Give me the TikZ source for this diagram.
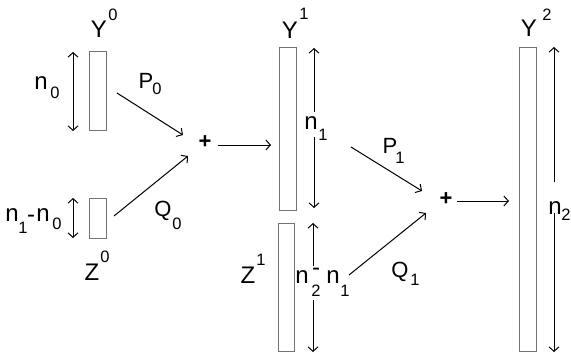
\documentclass[tikz,border=0pt]{standalone}
\usepackage{fontspec}
\setmainfont{Liberation Sans}
\usetikzlibrary{arrows.meta}
\begin{document}
\begin{tikzpicture}[x=1pt,y=-1pt,
  box/.style={draw=black!55, line width=1pt, inner sep=0pt, minimum width=17pt},
  tip/.tip={Straight Barb[length=4.5pt,width=10pt]},
  arr/.style={-tip, line width=1pt},
  big/.style={inner sep=0pt, font=\fontsize{24}{24}\selectfont},
  mid/.style={inner sep=0pt, font=\fontsize{22}{22}\selectfont},
  enn/.style={inner sep=0pt, font=\fontsize{24}{24}\selectfont},
  dig/.style={inner sep=0pt, font=\fontsize{16.5}{16.5}\selectfont}]
\useasboundingbox (0,0) rectangle (571,353);

% boxes
\node[box, minimum height=79pt]  (Y0) at (97.5,91.5) {};
\node[box, minimum height=40pt]  (Z0) at (97.5,218) {};
\node[box, minimum height=162pt] (Y1) at (287.5,129) {};
\node[box, minimum height=128pt, minimum width=16pt] (Z1) at (286,287.5) {};
\node[box, minimum height=304pt] (Y2) at (527.5,199.5) {};

% plus signs
\node[inner sep=0pt, font=\fontsize{22}{22}\selectfont\bfseries] (s0) at (205,142) {+};
\node[inner sep=0pt, font=\fontsize{22}{22}\selectfont\bfseries] (s1) at (446,199) {+};

% coordinates for connector ends
\coordinate (p0a) at (117,93);  \coordinate (p0b) at (183,135);
\coordinate (q0a) at (114,216); \coordinate (q0b) at (188,156);
\coordinate (s0a) at (218,145); \coordinate (s0b) at (271,145);
\coordinate (p1a) at (351,147); \coordinate (p1b) at (422,191);
\coordinate (q1a) at (349,275); \coordinate (q1b) at (426,213);
\coordinate (s1a) at (457,201); \coordinate (s1b) at (509,201);

\draw[arr] (p0a) -- (p0b);
\draw[arr] (q0a) -- (q0b);
\draw[arr] (s0a) -- (s0b);
\draw[arr] (p1a) -- (p1b);
\draw[arr] (q1a) -- (q1b);
\draw[arr] (s1a) -- (s1b);

% dimension arrows
\coordinate (a0t) at (73,52);  \coordinate (a0b) at (73,131);
\coordinate (b0t) at (73,198); \coordinate (b0b) at (73,238);
\coordinate (a1t) at (314,48); \coordinate (a1m) at (314,112);
\coordinate (a1n) at (314,137); \coordinate (a1b) at (314,208);
\coordinate (b1t) at (313,223); \coordinate (b1m) at (313,266);
\coordinate (b1n) at (313,300); \coordinate (b1b) at (313,352);
\coordinate (a2t) at (554,47); \coordinate (a2m) at (554,182);
\coordinate (a2n) at (554,213); \coordinate (a2b) at (554,352);
\draw[tip-tip, line width=1pt] (a0t) -- (a0b);
\draw[tip-tip, line width=1pt] (b0t) -- (b0b);
\draw[arr] (a1m) -- (a1t);
\draw[arr] (a1n) -- (a1b);
\draw[arr] (b1m) -- (b1t);
\draw[arr] (b1n) -- (b1b);
\draw[arr] (a2m) -- (a2t);
\draw[arr] (a2n) -- (a2b);

% labels
\node[big] (lY0) at (99,29) {Y};  \node[dig] (lY0s) at (113,15) {0};
\node[big] (lY1) at (290,30) {Y};  \node[dig] (lY1s) at (304,14) {1};
\node[big] (lY2) at (529,28) {Y};  \node[dig] (lY2s) at (547,15) {2};
\node[big] (lZ0) at (92,272) {Z};  \node[dig] (lZ0s) at (105,257) {0};
\node[big] (lZ1) at (248,275) {Z}; \node[dig] (lZ1s) at (261,260) {1};

\node[mid] (lP0) at (146,81) {P};  \node[dig] (lP0s) at (157,89) {0};
\node[mid] (lQ0) at (163,211) {Q}; \node[dig] (lQ0s) at (177,224) {0};
\node[mid] (lP1) at (390,146) {P}; \node[dig] (lP1s) at (400,158) {1};
\node[mid] (lQ1) at (400,272) {Q}; \node[dig] (lQ1s) at (415,280) {1};

\node[enn] (ln0) at (41,83) {n};   \node[dig] (ln0s) at (55,93) {0};
\node[enn] (lm1) at (12,215) {n};  \node[dig] (lm1s) at (23,228) {1};
\node[enn] (lmd) at (31,219) {-};
\node[enn] (lm0) at (43,215) {n};  \node[dig] (lm0s) at (57,224) {0};
\node[enn] (ln1) at (311,123) {n}; \node[dig] (ln1s) at (323,135) {1};
\node[enn] (lk2) at (302,277) {n}; \node[dig] (lk2s) at (316,291) {2};
\node[enn] (lkd) at (316,272) {-};
\node[enn] (lk1) at (333,277) {n}; \node[dig] (lk1s) at (345,291) {1};
\node[enn] (ln2) at (555,208) {n}; \node[dig] (ln2s) at (566,215) {2};
\end{tikzpicture}
\end{document}
